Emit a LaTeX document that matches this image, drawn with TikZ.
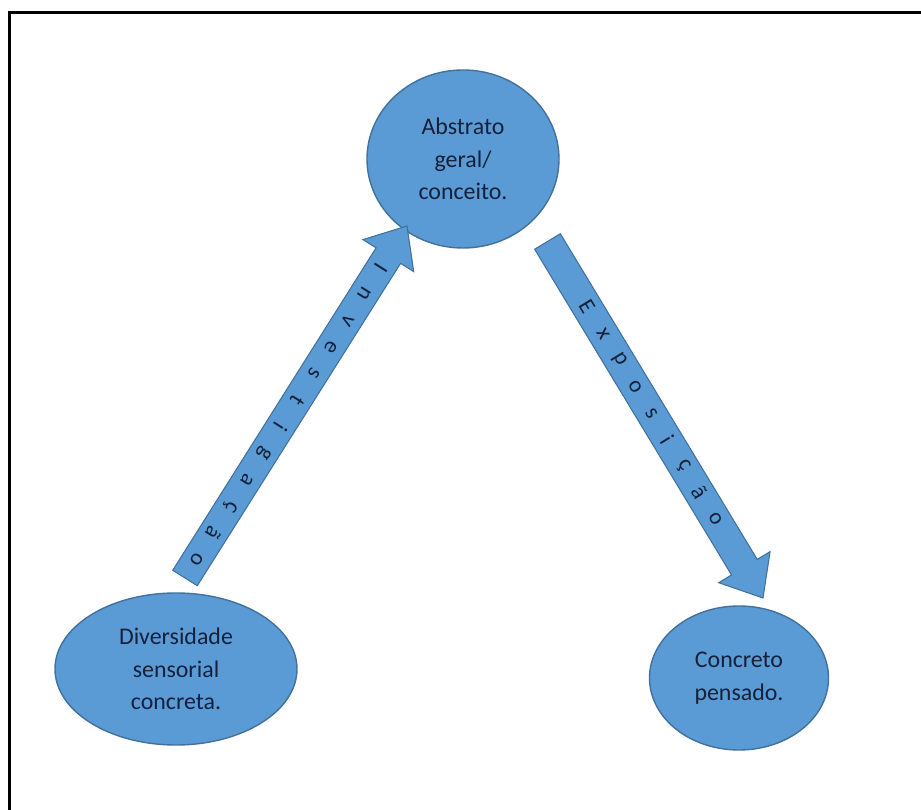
\documentclass[tikz,border=0pt]{standalone}
\usepackage{fontspec}
\setmainfont{Carlito}
\usepackage{tikz}
\usetikzlibrary{positioning,calc,shapes.geometric}
\usepackage{xcolor}
\definecolor{ofblue}{HTML}{5B9BD5}
\definecolor{ofedge}{HTML}{41719C}
\definecolor{inknavy}{HTML}{15213B}

\begin{document}
\begin{tikzpicture}[
    bolha/.style={ellipse, draw=ofedge, line width=0.8pt, fill=ofblue, font=\fontsize{13.6pt}{18.5pt}\selectfont, text=inknavy, align=center, inner sep=0pt},
    seta/.style={draw=ofedge, line width=0.6pt, fill=ofblue, line join=miter},
    letra/.style={font=\fontsize{13pt}{14pt}\selectfont, text=inknavy, inner sep=0pt},
    moldura/.style={black, line width=1.7pt}
]
    \useasboundingbox (0,0) rectangle (18.42,16.2);

    % Moldura (so esquerda e topo)
    \draw[moldura] (0.184, 0) -- (0.184, 15.95) -- (18.42, 15.95);

    % Elipses
    \node[bolha, minimum width=3.84cm, minimum height=3.56cm, text depth=-0.2cm] (abstrato) at (9.26, 13.02) {Abstrato\\geral/\\conceito.};
    \node[bolha, minimum width=4.84cm, minimum height=3.04cm] (diversidade) at (3.52, 2.82) {Diversidade\\sensorial\\concreta.};
    \node[bolha, minimum width=3.58cm, minimum height=2.88cm] (concreto) at (14.78, 2.64) {Concreto\\pensado.};

    % Seta da investigacao
    \coordinate (invBase)  at (3.70, 4.64);
    \coordinate (invPonta) at (8.14, 11.68);
    \coordinate (invColo)  at ($(invPonta)!0.7cm!(invBase)$);
    \draw[seta] ($(invBase)!0.29cm!90:(invPonta)$) -- ($(invColo)!0.29cm!-90:(invBase)$)
        -- ($(invColo)!0.6cm!-90:(invBase)$) -- (invPonta)
        -- ($(invColo)!0.6cm!90:(invBase)$) -- ($(invColo)!0.29cm!90:(invBase)$)
        -- ($(invBase)!0.29cm!-90:(invPonta)$) -- cycle;
    \foreach \ch [count=\i] in {I,n,v,e,s,t,i,g,a,ç,ã,o}
        \node[letra, rotate=-122.2] (inv\i) at ($(invPonta)!{0.98cm+(\i-1)*0.628cm}!(invBase)$) {\ch};

    % Seta da exposicao
    \coordinate (expBase)  at (10.95, 11.37);
    \coordinate (expPonta) at (15.26, 4.24);
    \coordinate (expColo)  at ($(expPonta)!0.72cm!(expBase)$);
    \draw[seta] ($(expBase)!0.3cm!90:(expPonta)$) -- ($(expColo)!0.3cm!-90:(expBase)$)
        -- ($(expColo)!0.6cm!-90:(expBase)$) -- (expPonta)
        -- ($(expColo)!0.6cm!90:(expBase)$) -- ($(expColo)!0.3cm!90:(expBase)$)
        -- ($(expBase)!0.3cm!-90:(expPonta)$) -- cycle;
    \foreach \ch [count=\i] in {E,x,p,o,s,i,ç,ã,o}
        \node[letra, rotate=-58.8] (exp\i) at ($(expBase)!{1.53cm+(\i-1)*0.62cm}!(expPonta)$) {\ch};
\end{tikzpicture}
\end{document}
